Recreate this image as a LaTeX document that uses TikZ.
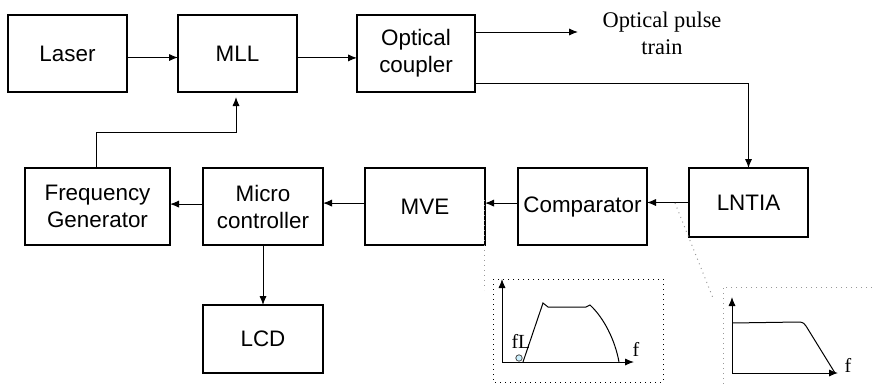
\documentclass[tikz,border=0pt]{standalone}
\usepackage{fontspec}
\setmainfont{Liberation Sans}
\newfontfamily\seriffam{Liberation Serif}
\usetikzlibrary{arrows.meta}
\begin{document}
\begin{tikzpicture}[x=0.5pt,y=-0.5pt,
  box/.style={draw,line width=0.6pt,minimum width=59.5pt,minimum height=38.5pt,inner sep=1pt,outer sep=0pt,align=center,font=\fontsize{11.2}{13.5}\selectfont},
  arr/.style={line width=0.5pt,-{Latex[length=4.5pt,width=3.6pt]}},
  ln/.style={line width=0.5pt},
  dotl/.style={gray!80,dotted,line width=0.5pt},
  sfont/.style={font=\seriffam\fontsize{11.2}{13.5}\selectfont},
  lbl/.style={font=\seriffam\fontsize{10}{12}\selectfont,inner sep=0pt}]
\useasboundingbox (0,0) rectangle (872,386);
% top row
\node[box] (laser) at (67.5,53.5) {Laser};
\node[box] (mll) at (237.5,53.5) {MLL};
\node[box,minimum width=59pt] (oc) at (416,53.5) {Optical\\coupler};
\node[sfont,align=center] (opt) at (662,33) {Optical pulse\\train};
\coordinate (optend) at (578,32);
% lower row
\node[box,minimum height=34.5pt] (lntia) at (748.5,202.5) {LNTIA};
\node[box,minimum width=64.5pt] (comp) at (582.5,206.5) {Comparator};
\node[box,minimum width=60pt] (mve) at (425,206.5) {MVE};
\node[box,minimum width=60pt] (micro) at (263,206.5) {Micro\\controller};
\node[box,minimum width=72.5pt] (fg) at (97.5,206.5) {Frequency\\Generator};
\node[box,minimum width=60pt,minimum height=34pt] (lcd) at (263,339) {LCD};
% connectors
\draw[arr] ([yshift=-2pt]laser.east) -- ([yshift=-2pt]mll.west);
\draw[arr] ([yshift=-2.2pt]mll.east) -- ([yshift=-2.2pt]oc.west);
\draw[arr] ([yshift=10.75pt]oc.east) -- (optend);
\draw[arr] ([yshift=-14.75pt]oc.east) -| (lntia.north);
\draw[arr] ([yshift=0pt]lntia.west) -- ([yshift=2pt]comp.east);
\draw[arr] ([yshift=1.7pt]comp.west) -- ([yshift=1.7pt]mve.east);
\draw[arr] ([yshift=1.7pt]mve.west) -- ([yshift=1.7pt]micro.east);
\draw[arr] ([yshift=1.2pt]micro.west) -- ([yshift=1.2pt]fg.east);
\draw[arr] (micro.south) -- (lcd.north);
\coordinate (fgturn) at (96,132);
\draw[arr] ([xshift=-0.75pt]fg.north) -- ([xshift=-0.75pt]fg.north |- fgturn) -| ([xshift=-0.75pt,yshift=-2.5pt]mll.south);
% dotted pointers
\coordinate (p1a) at (675,203);
\coordinate (p1b) at (713,298);
\draw[dotl] (p1a) -- (p1b);
\coordinate (p2a) at (484,200);
\coordinate (p2b) at (484,290);
\draw[dotl] (p2a) -- (p2b);
% spectrum 1
\draw[dotted,line width=0.5pt] (493,279) rectangle (663,382);
\coordinate (o1) at (502,362);
\coordinate (y1) at (502,279);
\coordinate (x1) at (634,362);
\draw[arr] (o1) -- (y1);
\draw[arr] (o1) -- (x1);
\draw[ln] (523,362) -- (543,303) -- (548,307) -- (586,307) -- (590,305) .. controls (604,318) and (615,340) .. (619,362);
\node[lbl] (fl) at (521,341) {fL};
\node[lbl] (f1) at (636,349) {f};
\filldraw[fill=cyan!20!white,draw=black!70,line width=0.4pt] (519,358) circle (3.2);
% spectrum 2
\draw[dotl] (872,287) -- (723,287) -- (723,386);
\coordinate (o2) at (732,373);
\coordinate (y2) at (732,297);
\coordinate (x2) at (838,373);
\draw[arr] (o2) -- (y2);
\draw[arr] (o2) -- (x2);
\draw[ln] (732,323) -- (799,322) .. controls (803,322) and (805,324) .. (806,326) -- (835,373);
\node[lbl] (f2) at (848,365) {f};
\end{tikzpicture}
\end{document}
